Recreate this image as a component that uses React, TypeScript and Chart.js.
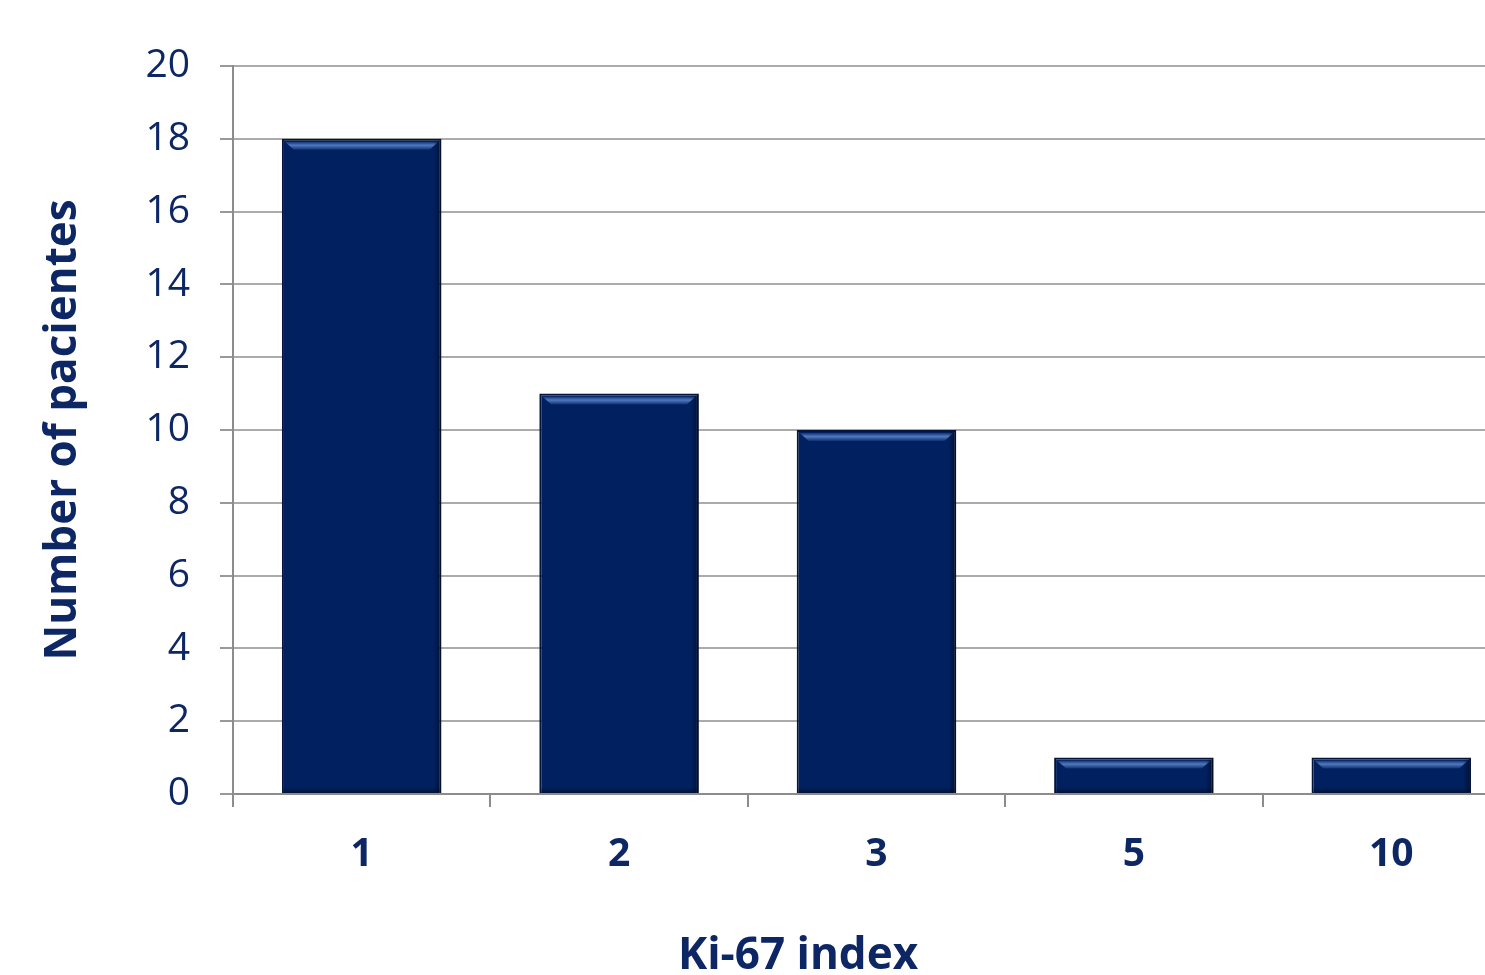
import React, { useEffect, useRef } from "react";
import { Chart, registerables } from "chart.js";

Chart.register(...registerables);

const categories = ["1", "2", "3", "5", "10"];
const patients = [18, 11, 10, 1, 1];
const yTicks = [0, 2, 4, 6, 8, 10, 12, 14, 16, 18, 20];
const xTitle = "Ki-67 index";
const yTitle = "Number of pacientes";

const NAVY_TEXT = "#0d2664";
const BAR_FILL = "#002060";
const FONT = "'Open Sans', 'DejaVu Sans', sans-serif";

const bevelPlugin = {
  id: "bevel",
  afterDatasetsDraw(chart: any) {
    const ctx = chart.ctx;
    const meta = chart.getDatasetMeta(0);
    meta.data.forEach((bar: any) => {
      const { x, y, width, base } = bar.getProps(["x", "y", "width", "base"], true);
      const left = x - width / 2;
      const right = x + width / 2;
      const h = base - y;
      ctx.save();
      const g = ctx.createLinearGradient(0, y + 2, 0, y + 12);
      g.addColorStop(0, "rgba(90,130,200,0.0)");
      g.addColorStop(0.45, "rgba(90,130,200,0.9)");
      g.addColorStop(1, "rgba(90,130,200,0.0)");
      ctx.fillStyle = g;
      ctx.beginPath();
      ctx.moveTo(left + 3, y + 3);
      ctx.lineTo(right - 3, y + 3);
      ctx.lineTo(right - 12, Math.min(y + 11, base - 2));
      ctx.lineTo(left + 12, Math.min(y + 11, base - 2));
      ctx.closePath();
      ctx.fill();
      const gs = ctx.createLinearGradient(right - 8, 0, right, 0);
      gs.addColorStop(0, "rgba(0,0,0,0)");
      gs.addColorStop(1, "rgba(0,0,0,0.5)");
      ctx.fillStyle = gs;
      ctx.fillRect(right - 8, y + 2, 7, h - 3);
      const gb = ctx.createLinearGradient(0, base - 6, 0, base);
      gb.addColorStop(0, "rgba(0,0,0,0)");
      gb.addColorStop(1, "rgba(0,0,0,0.4)");
      ctx.fillStyle = gb;
      ctx.fillRect(left + 1, Math.max(base - 6, y + 2), width - 2, Math.min(6, h - 2));
      ctx.restore();
    });
  },
};

const xTitlePlugin = {
  id: "xTitleText",
  afterDraw(chart: any) {
    const ctx = chart.ctx;
    ctx.save();
    ctx.font = `bold 44px ${FONT}`;
    ctx.fillStyle = NAVY_TEXT;
    ctx.textAlign = "center";
    ctx.textBaseline = "alphabetic";
    ctx.fillText(xTitle, 798, 969);
    ctx.restore();
  },
};

export default function App() {
  const ref = useRef<HTMLCanvasElement | null>(null);

  useEffect(() => {
    if (!ref.current) return;
    const chart = new Chart(ref.current, {
      type: "bar",
      data: {
        labels: categories,
        datasets: [
          {
            data: patients,
            backgroundColor: BAR_FILL,
            borderColor: "#06143a",
            borderWidth: 2,
            barPercentage: 0.62,
            categoryPercentage: 1,
          },
        ],
      },
      plugins: [bevelPlugin, xTitlePlugin],
      options: {
        animation: false,
        responsive: false,
        devicePixelRatio: 1,
        layout: { padding: { top: 66, right: 20, left: 0, bottom: 0 } },
        plugins: {
          legend: { display: false },
          tooltip: { enabled: false },
        },
        scales: {
          x: {
            afterFit: (scale: any) => {
              scale.height = 181;
            },
            grid: {
              offset: true,
              drawOnChartArea: false,
              drawTicks: true,
              tickLength: 13,
              color: "#8c8c8c",
              lineWidth: 2,
            },
            border: { color: "#8c8c8c", width: 2 },
            ticks: {
              color: NAVY_TEXT,
              font: { family: FONT, size: 39, weight: "bold" },
              padding: 24,
            },
            title: { display: false },
          },
          y: {
            min: 0,
            max: 20,
            afterFit: (scale: any) => {
              scale.width = 233;
            },
            afterBuildTicks: (scale: any) => {
              scale.ticks = yTicks.map((v) => ({ value: v }));
            },
            grid: {
              color: "#ababab",
              lineWidth: 2,
              tickLength: 13,
              tickColor: "#999999",
            },
            border: { color: "#8c8c8c", width: 2 },
            ticks: {
              color: NAVY_TEXT,
              font: { family: FONT, size: 39 },
              padding: 30,
            },
            title: {
              display: true,
              text: yTitle,
              color: NAVY_TEXT,
              font: { family: FONT, size: 44, weight: "bold", lineHeight: 1.2 },
              padding: { top: 37, bottom: 0 },
            },
          },
        },
      },
    } as any);
    return () => chart.destroy();
  }, []);

  return (
    <div
      style={{
        position: "fixed",
        left: 0,
        top: 0,
        width: 1485,
        height: 975,
        overflow: "hidden",
        background: "#ffffff",
      }}
    >
      <canvas
        ref={ref}
        width={1540}
        height={975}
        style={{ display: "block", width: 1540, height: 975 }}
      />
    </div>
  );
}
